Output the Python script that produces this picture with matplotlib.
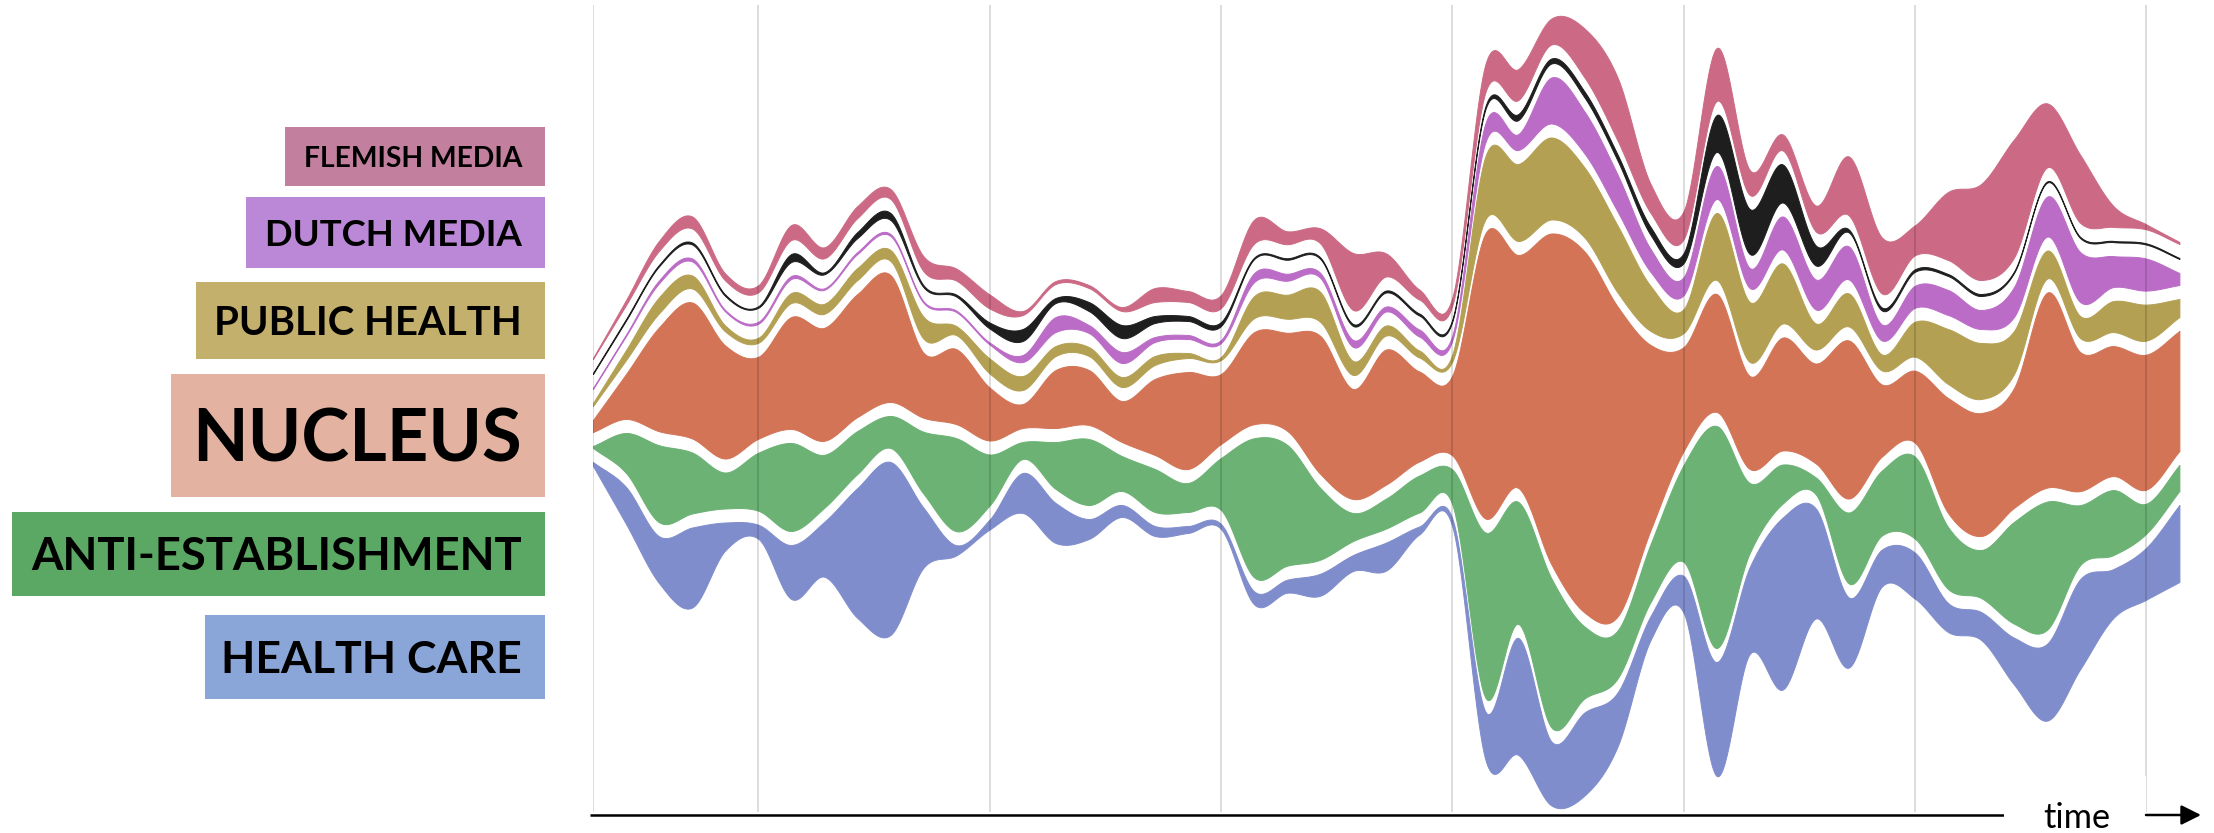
import numpy as np
import matplotlib
matplotlib.use("Agg")
import matplotlib.pyplot as plt
from matplotlib.patches import Rectangle

# daily thickness of every stream (one value per day, day 0..48)
days = np.arange(49)
flemish_media = [1, 5, 10, 12, 7, 7, 15, 11, 12, 10, 15, 12, 14, 4, 3, 3, 4, 14, 11, 13, 24, 13, 15, 57, 23,
                 10, 8, 28, 31, 26, 49, 63, 29, 28, 53, 25, 16, 26, 59, 56, 30, 68, 96, 118, 64, 68, 21, 5, 2]
news_media = [1, 1.5, 1.5, 2, 1.5, 1.5, 8, 2, 6, 7, 2, 2, 6, 12, 5, 9, 13, 7, 5, 4, 1.5, 1.5, 1.5, 2, 2,
              2, 2, 3, 6, 5, 6, 6, 8, 10, 37, 45, 38, 20, 3, 3, 2.5, 2, 2, 1.5, 1.2, 1.2, 1.2, 1.2, 1]
dutch_media = [1, 1.5, 3, 3, 1.5, 2, 3, 1.5, 2, 2, 1.5, 1.5, 2, 7, 15, 8, 11, 5, 4, 3, 9, 7, 5, 7, 5,
               7, 5, 19, 16, 46, 42, 37, 23, 18, 33, 20, 33, 30, 33, 16, 22, 25, 19, 30, 40, 50, 31, 32, 12]
public_health = [3, 10, 16, 13, 6, 5, 10, 10, 12, 11, 22, 9, 15, 14, 10, 9, 10, 9, 5, 3, 22, 24, 30, 14, 10,
                 7, 7, 63, 77, 82, 70, 67, 45, 24, 67, 60, 60, 26, 33, 16, 35, 55, 56, 43, 28, 22, 31, 36, 18]
nucleus = [12, 45, 104, 136, 113, 82, 112, 113, 123, 127, 65, 75, 53, 24, 58, 55, 41, 76, 97, 70, 92, 98, 138, 110, 135,
           90, 80, 285, 233, 331, 361, 310, 185, 104, 118, 93, 113, 100, 158, 72, 72, 115, 123, 120, 195, 139, 130, 135, 120]
anti_establishment = [2, 40, 77, 61, 36, 58, 88, 53, 43, 32, 62, 93, 51, 17, 47, 66, 35, 43, 29, 52, 139, 121, 72, 28, 30,
                      37, 35, 165, 122, 149, 72, 48, 58, 97, 222, 70, 39, 17, 71, 65, 82, 62, 48, 102, 128, 60, 65, 30, 26]
health_care = [4, 37, 47, 80, 28, 14, 54, 55, 130, 173, 60, 10, 10, 40, 40, 20, 12, 10, 7, 5, 13, 13, 22, 16, 28,
               8, 8, 48, 117, 64, 83, 54, 24, 37, 114, 87, 172, 110, 70, 37, 46, 29, 28, 47, 77, 90, 49, 52, 77]

# bottom to top
streams = [health_care, anti_establishment, nucleus, public_health, dutch_media, news_media, flemish_media]
stream_colors = ["#808dcc", "#6bb274", "#d27455", "#b3a052", "#bb6cc6", "#1e1e1e", "#cc6a85"]

labels = ["FLEMISH MEDIA", "DUTCH MEDIA", "PUBLIC HEALTH", "NUCLEUS", "ANTI-ESTABLISHMENT", "HEALTH CARE"]
label_colors = ["#c2809e", "#bb88d8", "#c2b06c", "#e4b2a0", "#5aa864", "#8aa6d8"]

grid_days = [0, 5, 12, 19, 26, 33, 40, 47]
gap = 14


def smooth(y, xf):
    y = np.asarray(y, float)
    m = np.gradient(y)
    i = np.clip(np.floor(xf).astype(int), 0, len(y) - 2)
    t = xf - i
    h00 = 2 * t**3 - 3 * t**2 + 1
    h10 = t**3 - 2 * t**2 + t
    h01 = -2 * t**3 + 3 * t**2
    h11 = t**3 - t**2
    return np.clip(h00 * y[i] + h10 * m[i] + h01 * y[i + 1] + h11 * m[i + 1], 0.4, None)


W, H = 2214, 833
fig = plt.figure(figsize=(W / 100, H / 100), dpi=100)
fig.patch.set_facecolor("white")

px_day = 33.05
ax = fig.add_axes([593 / W, 0, 48.2 * px_day / W, 1])
ax.set_xlim(0, 48.2)
ax.set_ylim(-(H - 412), 412)
ax.axis("off")

xf = np.linspace(0, 48, 2400)
th = [smooth(s, xf) for s in streams]
total = sum(th) + gap * (len(th) - 1)
low = -total / 2
for k, (t, c) in enumerate(zip(th, stream_colors)):
    ax.fill_between(xf, low, low + t, color=c, edgecolor=c, lw=0.7, zorder=2)
    low = low + t + gap

ax.vlines(grid_days, 412 - 812, 412 - 5, color="black", alpha=0.15, lw=1.3, zorder=3)

# overlay in pixel coordinates for labels and the time axis
ov = fig.add_axes([0, 0, 1, 1], facecolor="none")
ov.set_xlim(0, W)
ov.set_ylim(H, 0)
ov.axis("off")

boxes = [(285, 127, 186), (246, 197, 268), (196, 282, 359), (171, 374, 497), (12, 512, 596), (205, 615, 699)]
text_left = [303, 264, 214, 192, 30, 222]
text_right = 522
renderer = fig.canvas.get_renderer()
for lab, col, (x0, y0, y1), tl in zip(labels, label_colors, boxes, text_left):
    ov.add_patch(Rectangle((x0, y0), 545 - x0, y1 - y0, color=col, lw=0))
    t = ov.text(text_right, 0, lab, ha="right", va="baseline", fontsize=30,
                family="Lato", weight="bold", color="black")
    w = t.get_window_extent(renderer).width
    fs = 30 * (text_right - tl) / w
    t.set_fontsize(fs)
    cap = 0.7165 * fs * 100 / 72
    t.set_y((y0 + y1) / 2 + cap / 2)

# time axis
ov.plot([590, 2004], [815, 815], color="black", lw=1.8, solid_capstyle="butt")
ov.add_patch(Rectangle((2004, 776), 142, 60, color="white", lw=0, zorder=4))
ov.annotate("", xy=(2201, 815), xytext=(2146, 815),
            arrowprops=dict(arrowstyle="-|>", lw=1.8, color="black", mutation_scale=30, shrinkA=0, shrinkB=0),
            zorder=5)
tt = ov.text(2043, 828, "time", ha="left", va="baseline", fontsize=24, family="Lato", color="black", zorder=5)
w = tt.get_window_extent(renderer).width
tt.set_fontsize(24 * 67 / w)

fig.savefig("out.png", dpi=100, facecolor="white")
